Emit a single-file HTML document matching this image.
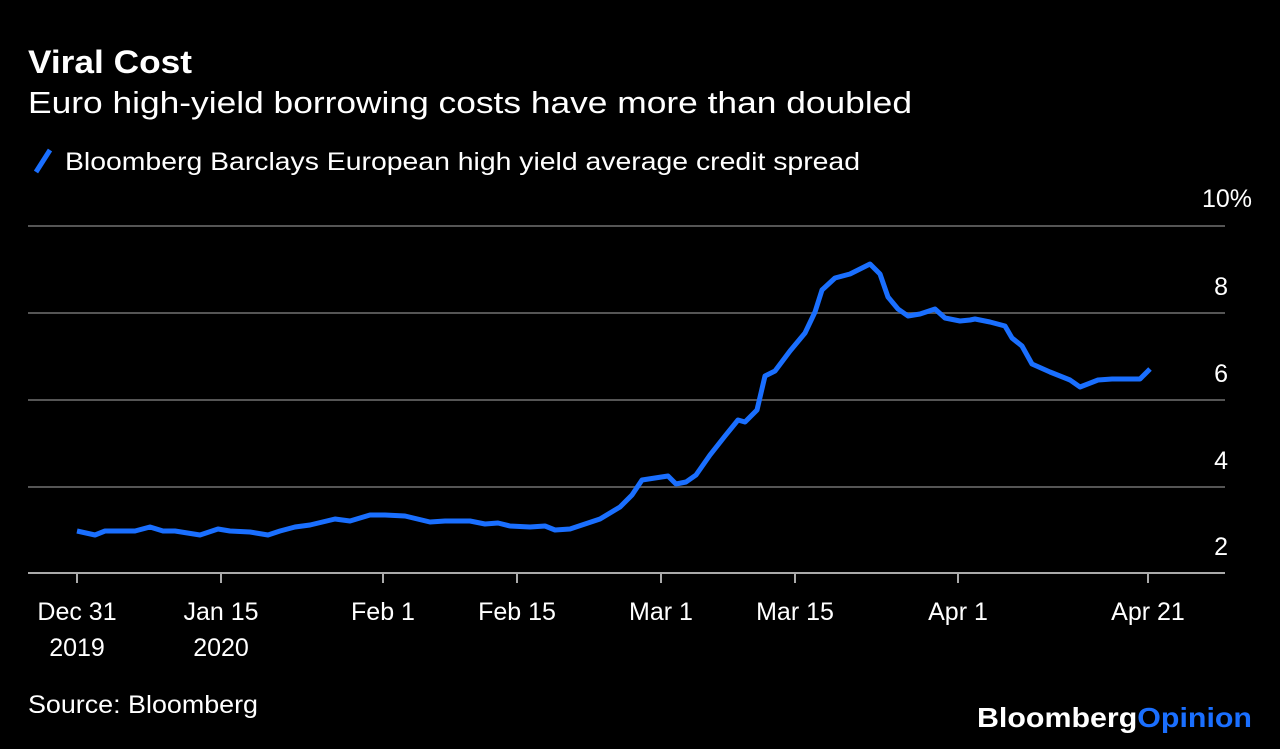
<!DOCTYPE html>
<html><head><meta charset="utf-8"><style>
body{margin:0;background:#000;width:1280px;height:744px;overflow:hidden;font-family:"Liberation Sans",sans-serif;color:#fff}
</style></head><body>
<svg width="1280" height="744" xmlns="http://www.w3.org/2000/svg" font-family="Liberation Sans, sans-serif">
<rect width="1280" height="744" fill="#000"/>
<text x="28" y="73" font-size="32" font-weight="bold" fill="#fff" textLength="164" lengthAdjust="spacingAndGlyphs">Viral Cost</text>
<text x="28" y="113" font-size="31" fill="#fff" textLength="884" lengthAdjust="spacingAndGlyphs">Euro high-yield borrowing costs have more than doubled</text>
<line x1="36" y1="172" x2="50" y2="150" stroke="#1a6fff" stroke-width="5"/>
<text x="65" y="170" font-size="25" fill="#fff" textLength="795" lengthAdjust="spacingAndGlyphs">Bloomberg Barclays European high yield average credit spread</text>
<g stroke="#555" stroke-width="2">
<line x1="28" y1="226" x2="1225" y2="226"/>
<line x1="28" y1="313" x2="1225" y2="313"/>
<line x1="28" y1="400" x2="1225" y2="400"/>
<line x1="28" y1="487" x2="1225" y2="487"/>
</g>
<line x1="28" y1="573" x2="1225" y2="573" stroke="#aaa" stroke-width="2"/>
<g font-size="25" fill="#fff" text-anchor="end">
<text x="1252" y="207">10%</text>
<text x="1228" y="295">8</text>
<text x="1228" y="382">6</text>
<text x="1228" y="469">4</text>
<text x="1228" y="555">2</text>
</g>
<g stroke="#aaa" stroke-width="2">
<line x1="77" y1="573" x2="77" y2="583"/><line x1="221" y1="573" x2="221" y2="583"/>
<line x1="383" y1="573" x2="383" y2="583"/><line x1="517" y1="573" x2="517" y2="583"/>
<line x1="661" y1="573" x2="661" y2="583"/><line x1="795" y1="573" x2="795" y2="583"/>
<line x1="958" y1="573" x2="958" y2="583"/><line x1="1148" y1="573" x2="1148" y2="583"/>
</g>
<g font-size="25" fill="#fff" text-anchor="middle">
<text x="77" y="620">Dec 31</text><text x="77" y="656">2019</text>
<text x="221" y="620">Jan 15</text><text x="221" y="656">2020</text>
<text x="383" y="620">Feb 1</text><text x="517" y="620">Feb 15</text>
<text x="661" y="620">Mar 1</text><text x="795" y="620">Mar 15</text>
<text x="958" y="620">Apr 1</text><text x="1148" y="620">Apr 21</text>
</g>
<polyline fill="none" stroke="#1a6fff" stroke-width="5" stroke-linejoin="round" points="77,531 95,535 105,531 135,531 150,527 163,531 175,531 200,535 218,529 230,531 250,532 268,535 280,531 295,527 310,525 335,519 350,521 370,515 385,515 405,516 430,522 445,521 470,521 485,524 498,523 510,526 530,527 545,526 555,530 570,529 600,519 620,507 632,495 642,480 655,478 668,476 676,484 686,482 696,475 710,455 725,436 738,420 745,422 757,410 765,376 775,371 790,351 805,333 815,312 822,290 835,278 850,274 870,264 880,274 888,297 898,309 908,316 920,314 935,309 945,318 960,321 970,320 975,319 990,322 1005,326 1012,338 1022,346 1032,364 1050,372 1070,380 1080,387 1098,380 1112,379 1140,379 1150,369"/>
<text x="28" y="713" font-size="25" fill="#fff" textLength="230" lengthAdjust="spacingAndGlyphs">Source: Bloomberg</text>
<text x="977" y="727" font-size="28" font-weight="bold" textLength="275" lengthAdjust="spacingAndGlyphs"><tspan fill="#fff">Bloomberg</tspan><tspan fill="#1a6fff">Opinion</tspan></text>
</svg>
</body></html>
